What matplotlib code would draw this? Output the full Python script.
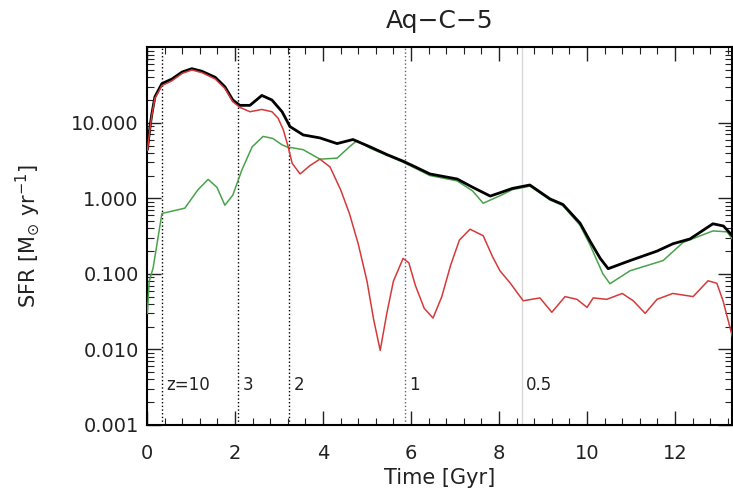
import numpy as np
import matplotlib.pyplot as plt
from matplotlib.ticker import FixedLocator, NullFormatter, LogLocator

# Total SFR (black)
t_tot = [0.01, 0.07, 0.11, 0.18, 0.34, 0.57, 0.8, 1.02, 1.25, 1.55, 1.77, 1.95, 2.11,
         2.34, 2.61, 2.84, 3.07, 3.25, 3.55, 3.93, 4.32, 4.68, 5.07, 5.45, 5.82, 6.1,
         6.43, 7.05, 7.4, 7.8, 8.05, 8.3, 8.7, 9.16, 9.45, 9.84, 10.07, 10.3, 10.48,
         10.98, 11.59, 11.95, 12.34, 12.86, 13.1, 13.3]
sfr_tot = [4.5, 8.9, 13.0, 22.0, 33.0, 38.0, 47.0, 52.0, 48.0, 40.0, 30.0, 20.0, 17.0,
           17.0, 23.0, 20.0, 14.0, 8.9, 6.9, 6.3, 5.3, 6.0, 4.8, 3.8, 3.1, 2.6,
           2.1, 1.8, 1.4, 1.07, 1.2, 1.35, 1.5, 0.98, 0.83, 0.47, 0.27, 0.16, 0.117,
           0.15, 0.2, 0.25, 0.29, 0.46, 0.43, 0.32]

# Green component
t_green = [0.01, 0.05, 0.14, 0.34, 0.86, 1.16, 1.39, 1.59, 1.77, 1.95, 2.16, 2.39, 2.64,
           2.86, 3.07, 3.18, 3.55, 3.93, 4.32, 4.6, 4.77, 5.07, 5.45, 5.82, 6.43, 7.05,
           7.4, 7.64, 8.05, 8.3, 8.7, 9.16, 9.45, 9.84, 10.07, 10.36, 10.52, 10.98,
           11.73, 12.18, 12.86, 13.18, 13.3]
sfr_green = [0.03, 0.08, 0.12, 0.63, 0.74, 1.3, 1.78, 1.4, 0.81, 1.1, 2.4, 4.8, 6.6,
             6.2, 5.1, 4.8, 4.4, 3.3, 3.4, 4.8, 5.8, 4.6, 3.7, 3.0, 2.0, 1.7,
             1.25, 0.86, 1.1, 1.3, 1.45, 0.95, 0.8, 0.44, 0.24, 0.1, 0.074, 0.11,
             0.15, 0.26, 0.37, 0.36, 0.29]

# Red component
t_red = [0.01, 0.07, 0.11, 0.18, 0.34, 0.57, 0.8, 1.02, 1.25, 1.55, 1.77, 1.95, 2.11,
         2.34, 2.61, 2.84, 2.98, 3.1, 3.2, 3.3, 3.48, 3.7, 3.93, 4.16, 4.4, 4.6, 4.8, 5.0,
         5.15, 5.3, 5.45, 5.6, 5.82, 5.95, 6.1, 6.3, 6.5, 6.7, 6.9, 7.1, 7.34, 7.64, 7.85,
         8.02, 8.25, 8.55, 8.93, 9.2, 9.5, 9.77, 10.0, 10.14, 10.45, 10.8, 11.05, 11.32,
         11.59, 11.95, 12.41, 12.75, 12.95, 13.09, 13.3]
sfr_red = [4.3, 8.5, 12.5, 21.0, 31.0, 36.0, 45.0, 50.0, 46.0, 38.0, 28.5, 19.0, 16.0,
           14.0, 15.0, 14.0, 11.5, 8.0, 5.0, 2.9, 2.1, 2.7, 3.3, 2.6, 1.3, 0.63, 0.25, 0.08,
           0.025, 0.0097, 0.03, 0.08, 0.16, 0.14, 0.07, 0.035, 0.026, 0.05, 0.13, 0.28, 0.39,
           0.32, 0.17, 0.11, 0.076, 0.044, 0.048, 0.031, 0.05, 0.046, 0.036, 0.048, 0.046,
           0.055, 0.044, 0.03, 0.046, 0.055, 0.05, 0.081, 0.075, 0.044, 0.015]

# Redshift markers
z_times = [0.34, 2.07, 3.23, 5.86, 8.52]
z_labels = ["z=10", "3", "2", "1", "0.5"]
z_colors = ["black", "black", "black", "#556677", "#d8d8d8"]

fig = plt.figure(figsize=(7.33, 4.97), dpi=100)
ax = fig.add_axes([0.2005, 0.145, 0.7985, 0.76])

for tz, lab, c in zip(z_times, z_labels, z_colors):
    ls = "-" if c == "#d8d8d8" else ":"
    ax.axvline(tz, color=c, ls=ls, lw=1.0, zorder=1)
    ax.text(tz + 0.1, 0.0034, lab, fontsize=12, color="#222222", va="center", ha="left")

ax.plot(t_green, sfr_green, color="#4aa24a", lw=1.1, zorder=3)
ax.plot(t_tot, sfr_tot, color="black", lw=2.0, zorder=4)
ax.plot(t_red, sfr_red, color="#d43a3a", lw=1.1, zorder=5)

ax.set_yscale("log")
ax.set_xlim(0, 13.3)
ax.set_ylim(0.001, 100)
ax.set_yticks([0.001, 0.01, 0.1, 1, 10])
ax.set_yticklabels(["0.001", "0.010", "0.100", "1.000", "10.000"])
ax.yaxis.set_minor_locator(LogLocator(base=10, subs=np.arange(2, 10)))
ax.yaxis.set_minor_formatter(NullFormatter())
ax.set_xticks([0, 2, 4, 6, 8, 10, 12])
ax.xaxis.set_minor_locator(FixedLocator(np.arange(0, 13.3, 0.4)))

ax.tick_params(which="both", direction="in", top=True, right=True, labelsize=14,
               colors="#222222")
ax.tick_params(which="major", length=10, width=1.0)
ax.tick_params(which="minor", length=5, width=0.8)
ax.tick_params(axis="x", which="major", pad=14)
ax.tick_params(axis="y", which="major", pad=6)
for s in ax.spines.values():
    s.set_linewidth(1.5)

ax.set_title("Aq\u2212C\u22125", fontsize=18, color="#222222", pad=14)
ax.set_xlabel("Time [Gyr]", fontsize=15, color="#222222")
ax.xaxis.set_label_coords(0.5, -0.115)
ax.xaxis.label.set_va("top")
ax.set_ylabel(r"SFR [M$_{\odot}$ yr$^{-1}$]", fontsize=15, color="#222222")
ax.yaxis.set_label_coords(-0.18, 0.5)

fig.savefig("out.png", dpi=100)
